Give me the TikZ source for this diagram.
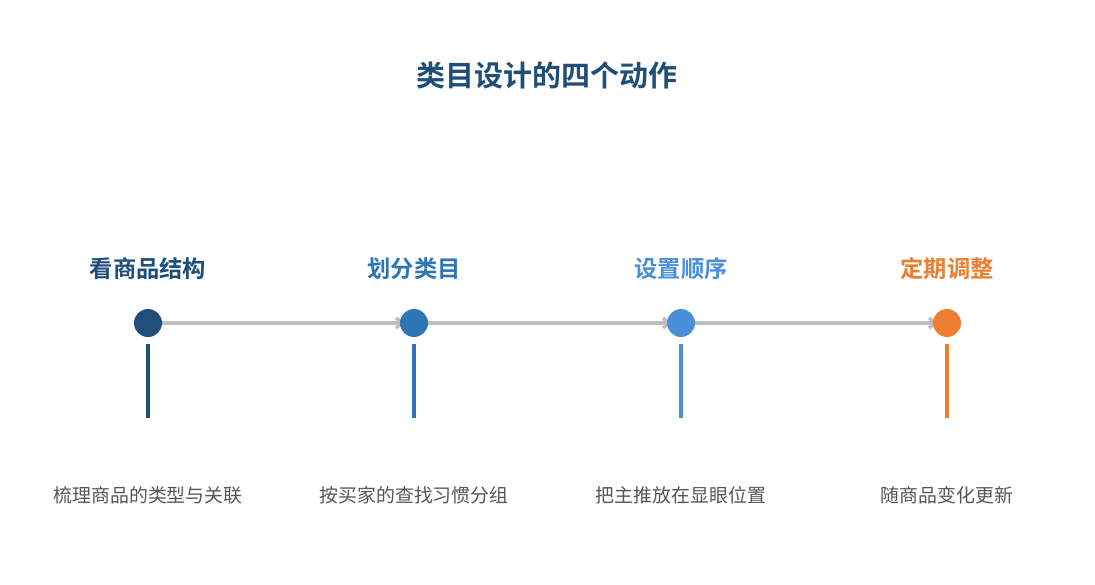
\documentclass[tikz,border=0pt]{standalone}
\usepackage{fontspec}
\newfontfamily\cjk{Noto Sans CJK SC}
\newfontfamily\cjkb{Noto Sans CJK SC Bold}
\usetikzlibrary{arrows.meta,backgrounds}
\definecolor{cA}{HTML}{1F4E79}
\definecolor{cB}{HTML}{2E75B6}
\definecolor{cC}{HTML}{4A90D9}
\definecolor{cD}{HTML}{ED7D31}
\definecolor{lineg}{HTML}{BFBFBF}
\definecolor{txtg}{HTML}{555555}
\tikzset{
  dot/.style={circle, fill=#1, minimum size=28pt, inner sep=0pt},
  steplabel/.style={text=#1, font=\cjkb\fontsize{23.3}{27}\selectfont, inner sep=0pt},
  desc/.style={text=txtg, font=\cjk\fontsize{18.9}{22}\selectfont, inner sep=0pt},
  stem/.style={draw=#1, line width=4pt},
  flow/.style={draw=lineg, line width=3.5pt, -{Straight Barb[length=6pt,width=10pt]}, shorten <=-2pt, shorten >=-5pt},
}
\begin{document}
\begin{tikzpicture}[x=1pt,y=-1pt]
\useasboundingbox (0,0) rectangle (1095,585);
\node[text=cA, font=\cjkb\fontsize{29}{33}\selectfont, inner sep=0pt] (title) at (547,75) {类目设计的四个动作};
\foreach \n/\x/\c/\lab/\d in {a/148/cA/看商品结构/梳理商品的类型与关联, b/414/cB/划分类目/按买家的查找习惯分组, c/681/cC/设置顺序/把主推放在显眼位置, d/947/cD/定期调整/随商品变化更新}{
  \node[steplabel=\c] (l\n) at (\x,269) {\lab};
  \node[dot=\c] (d\n) at (\x,323) {};
  \coordinate (s\n) at (\x,344);
  \coordinate (e\n) at (\x,418);
  \draw[stem=\c] (s\n) -- (e\n);
  \node[desc] (t\n) at (\x,495) {\d};
}
\begin{pgfonlayer}{background}
\draw[flow] (da) -- (db);
\draw[flow] (db) -- (dc);
\draw[flow] (dc) -- (dd);
\end{pgfonlayer}
\end{tikzpicture}
\end{document}
